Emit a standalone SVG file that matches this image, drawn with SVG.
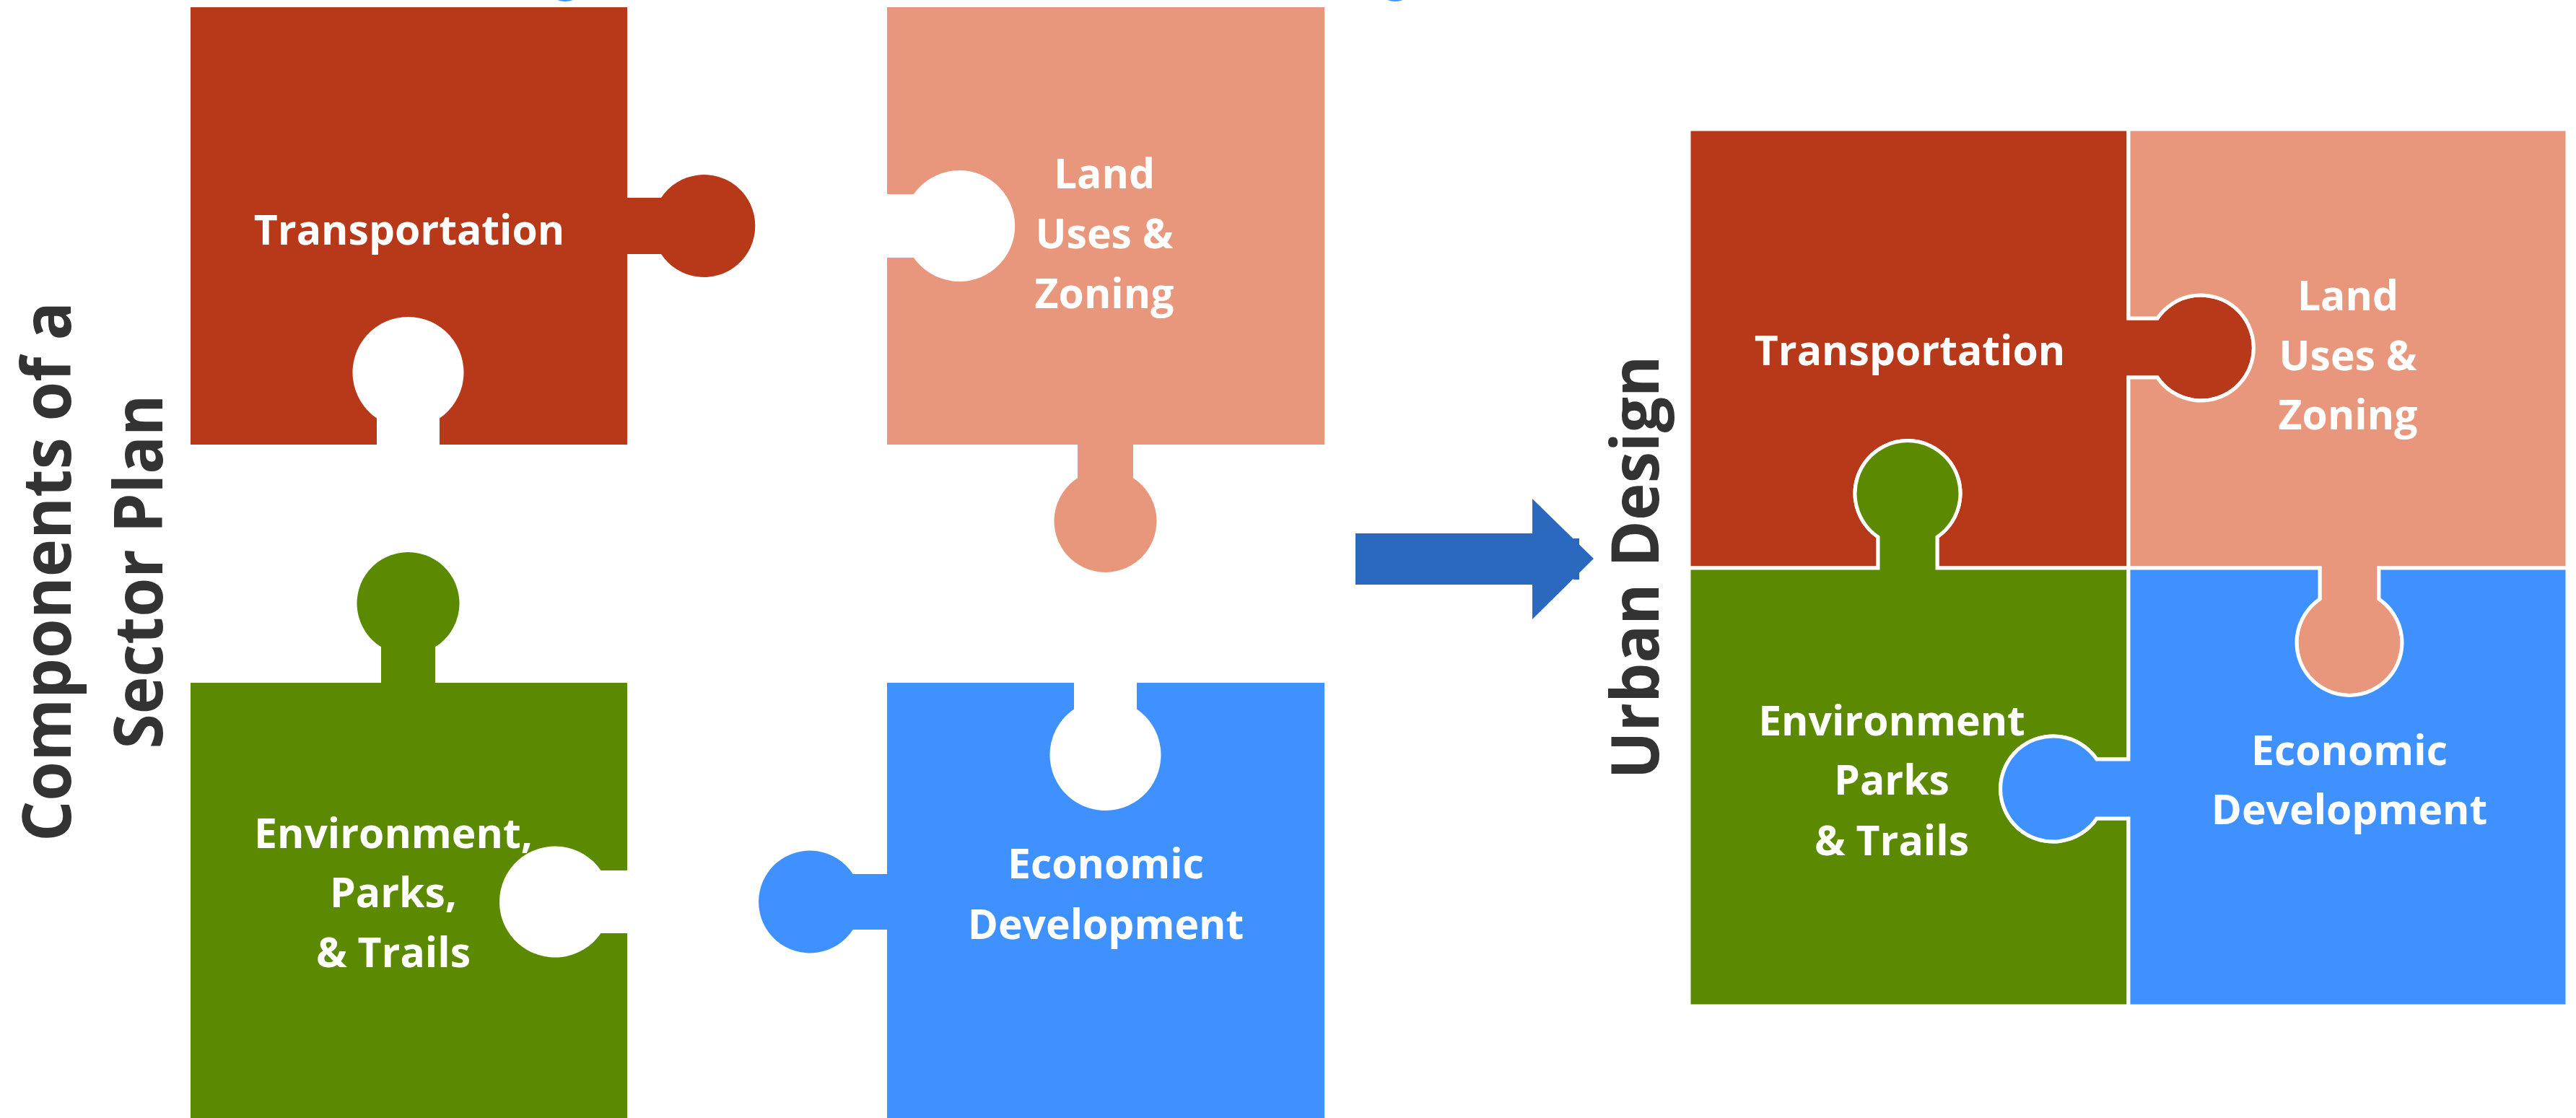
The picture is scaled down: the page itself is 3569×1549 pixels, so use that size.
<svg xmlns="http://www.w3.org/2000/svg" width="3569" height="1549" viewBox="0 0 3569 1549">
<style>
.lbl{font-family:"Open Sans","Liberation Sans",sans-serif;font-weight:700;font-size:57px;fill:#ffffff;text-anchor:middle}
.ttl{font-family:"Open Sans","Liberation Sans",sans-serif;font-weight:700;fill:#333333;text-anchor:middle}
.t{fill:#B7391A}.l{fill:#E8977D}.g{fill:#5B8A00}.b{fill:#3E91FF}
.out{stroke:#ffffff;stroke-width:5;stroke-linejoin:miter}
</style>
<rect x="0" y="0" width="3569" height="1549" fill="#ffffff"/>
<g id="top-fragments" fill="#3E91FF">
<ellipse cx="783" cy="-4" rx="14" ry="6"/>
<ellipse cx="1933" cy="-4" rx="14" ry="6"/>
</g>
<g id="title-left">
<text class="ttl" font-size="94" transform="translate(98,792) rotate(-90)" textLength="748" lengthAdjust="spacingAndGlyphs">Components of a</text>
<text class="ttl" font-size="94" transform="translate(225,792) rotate(-90)" textLength="491" lengthAdjust="spacingAndGlyphs">Sector Plan</text>
</g>
<g id="left-transportation">
<path class="t" d="M264,10 H869 V274 H916 A71,71 0 1 1 916,352 H869 V616 H609 V579.5 A77,77 0 1 0 522,579.5 V616 H264 Z"/>
<text class="lbl" x="567" y="339">Transportation</text>
</g>
<g id="left-landuse">
<path class="l" d="M1229,10 H1835 V616 H1570 V662.3 A71,71 0 1 1 1493,662.3 V616 H1229 V357 H1266 A77,77 0 1 0 1266,269 H1229 Z"/>
<text class="lbl" x="1530" y="261">Land</text>
<text class="lbl" x="1530" y="344">Uses &amp;</text>
<text class="lbl" x="1530" y="427">Zoning</text>
</g>
<g id="left-environment">
<path class="g" d="M264,946 H528 V896.3 A71,71 0 1 1 603,896.3 V946 H869 V1206 H832.5 A77,77 0 1 0 832.5,1293 H869 V1560 H264 Z"/>
<text class="lbl" x="545" y="1175">Environment,</text>
<text class="lbl" x="545" y="1257">Parks,</text>
<text class="lbl" x="545" y="1340">&amp; Trails</text>
</g>
<g id="left-economic">
<path class="b" d="M1229,946 H1488 V982.5 A77,77 0 1 0 1575,982.5 V946 H1835 V1560 H1229 V1288 H1181.7 A71,71 0 1 1 1181.7,1211 H1229 Z"/>
<text class="lbl" x="1532" y="1217">Economic</text>
<text class="lbl" x="1532" y="1301">Development</text>
</g>
<g id="connectors">
<polygon fill="#2B69BE" points="1878,739 2123,739 2123,691 2208,774 2123,858 2123,810 1878,810"/>
<rect fill="#2B69BE" x="2180" y="746" width="8" height="57"/>
</g>
<g id="title-right">
<text class="ttl" font-size="92" transform="translate(2298,786) rotate(-90)" textLength="587" lengthAdjust="spacingAndGlyphs">Urban Design</text>
</g>
<g id="right-transportation">
<path class="t out" d="M2340,179 H2949 V441 H2989 A73,73 0 1 1 2989,523 H2949 V787 H2684 V744 A73,73 0 1 0 2602,744 V787 H2340 Z"/>
<text class="lbl" x="2646" y="506">Transportation</text>
</g>
<g id="right-landuse">
<path class="l out" d="M2949,179 H3557 V787 H3296 V830 A73,73 0 1 1 3214,830 V787 H2949 V523 H2989 A73,73 0 1 0 2989,441 H2949 Z"/>
<text class="lbl" x="3253" y="430">Land</text>
<text class="lbl" x="3253" y="513">Uses &amp;</text>
<text class="lbl" x="3253" y="595">Zoning</text>
</g>
<g id="right-environment">
<path class="g out" d="M2340,787 H2602 V744 A73,73 0 1 1 2684,744 V787 H2949 V1052 H2905 A73,73 0 1 0 2905,1134 H2949 V1394 H2340 Z"/>
<text class="lbl" x="2621" y="1019">Environment</text>
<text class="lbl" x="2621" y="1101">Parks</text>
<text class="lbl" x="2621" y="1185">&amp; Trails</text>
</g>
<g id="right-economic">
<path class="b out" d="M2949,787 H3214 V830 A73,73 0 1 0 3296,830 V787 H3557 V1394 H2949 V1134 H2905 A73,73 0 1 1 2905,1052 H2949 Z"/>
<text class="lbl" x="3255" y="1060">Economic</text>
<text class="lbl" x="3255" y="1142">Development</text>
</g>
</svg>
